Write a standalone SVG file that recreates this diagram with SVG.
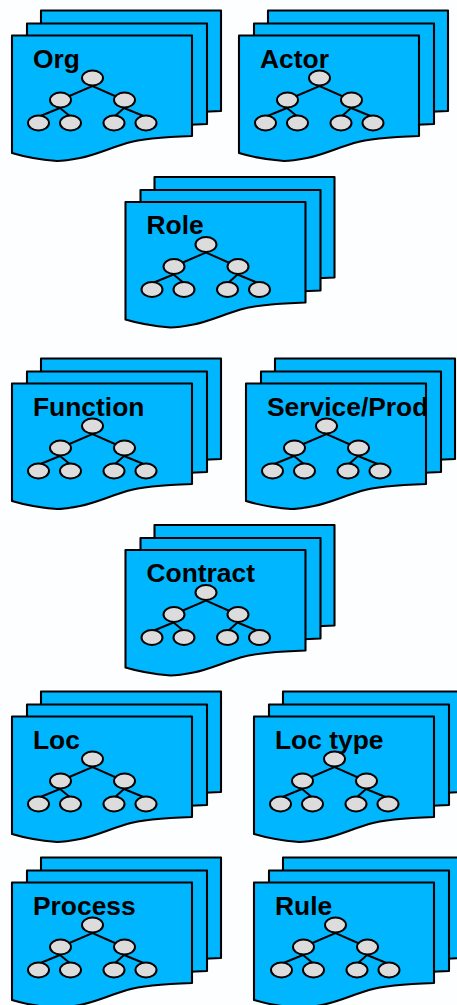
<svg xmlns="http://www.w3.org/2000/svg" xmlns:xlink="http://www.w3.org/1999/xlink" width="457" height="1005" viewBox="0 0 457 1005">
<style>
.sheet{fill:#00b7ff;stroke:#000;stroke-width:2.1;stroke-linejoin:round}
.tree{fill:none;stroke:#000;stroke-width:2}
.leaf{fill:#dcdcdc;stroke:#000;stroke-width:2}
.label{font-family:"Liberation Sans",Arial,sans-serif;font-weight:bold;font-size:26.400px;fill:#000}
</style>
<defs>
<path id="page" d="M12,35.500H192V136C160,137 140,139 127,143C110,148 95,155 80,158C70,160 62,161 57,161C45,160 25,157 12,153Z"/>
<g id="doc">
<use href="#page" class="sheet" transform="translate(29,-25)"/>
<use href="#page" class="sheet" transform="translate(15,-12)"/>
<use href="#page" class="sheet"/>
</g>
<g id="tree">
<path class="tree" d="M60,100L92.500,86L124,100M60,108L38,117M60,108L71,117M124,108L114,117M124,108L146,117"/>
<ellipse class="leaf" cx="92.500" cy="78" rx="10.500" ry="7.500"/>
<ellipse class="leaf" cx="60.500" cy="100" rx="10.500" ry="7.500"/>
<ellipse class="leaf" cx="124.500" cy="100" rx="10.500" ry="7.500"/>
<ellipse class="leaf" cx="38.500" cy="123" rx="10.500" ry="7.500"/>
<ellipse class="leaf" cx="70.500" cy="123" rx="10.500" ry="7.500"/>
<ellipse class="leaf" cx="114" cy="123" rx="10.500" ry="7.500"/>
<ellipse class="leaf" cx="146" cy="123" rx="10.500" ry="7.500"/>
</g>
</defs>
<rect width="457" height="1005" fill="#fcfeff"/>
<g id="connectors"/>
<g id="org"><use href="#doc"/><use href="#tree"/><text class="label" x="33" y="67.500">Org</text></g>
<g id="actor" transform="translate(227,0)"><use href="#doc"/><use href="#tree"/><text class="label" x="33" y="67.500">Actor</text></g>
<g id="role" transform="translate(113.500,166.500)"><use href="#doc"/><use href="#tree"/><text class="label" x="33" y="67.500">Role</text></g>
<g id="function" transform="translate(0,348)"><use href="#doc"/><use href="#tree"/><text class="label" x="33" y="67.500">Function</text></g>
<g id="service-prod" transform="translate(234,348)"><use href="#doc"/><use href="#tree"/><text class="label" x="33" y="67.500">Service/Prod</text></g>
<g id="contract" transform="translate(113.500,514.500)"><use href="#doc"/><use href="#tree"/><text class="label" x="33" y="67.500">Contract</text></g>
<g id="loc" transform="translate(0,681)"><use href="#doc"/><use href="#tree"/><text class="label" x="33" y="67.500">Loc</text></g>
<g id="loc-type" transform="translate(242,681)"><use href="#doc"/><use href="#tree"/><text class="label" x="33" y="67.500">Loc type</text></g>
<g id="process" transform="translate(0,847)"><use href="#doc"/><use href="#tree"/><text class="label" x="33" y="67.500">Process</text></g>
<g id="rule" transform="translate(242,847)"><use href="#doc"/><use href="#tree" x="1"/><text class="label" x="33" y="67.500">Rule</text></g>
</svg>
